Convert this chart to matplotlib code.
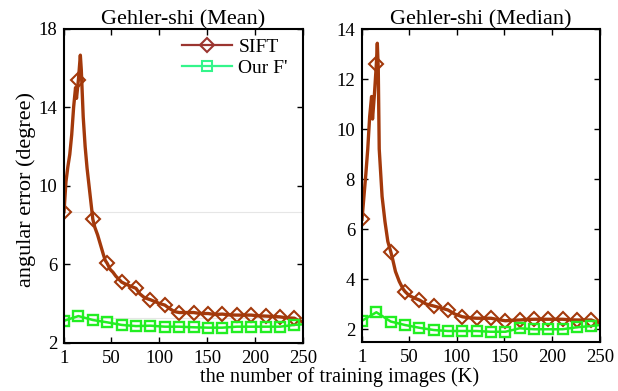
import matplotlib
matplotlib.use("Agg")
import matplotlib.pyplot as plt
from matplotlib.lines import Line2D
import numpy as np

plt.rcParams['font.family'] = ['Liberation Serif', 'DejaVu Serif']

# marker positions shared by every curve (every 15 training images)
marker_x = list(range(1, 250, 15))

# Gehler-shi, mean angular error
sift_mean_x = [1, 3, 5, 7, 9, 11, 13, 14, 16, 18, 19, 21, 23, 25, 28, 31, 33, 36, 39, 42,
               44, 46, 49, 52, 55, 58, 61, 65, 70, 76, 80, 85, 91, 96, 101, 106, 111, 116,
               121, 128, 136, 143, 151, 158, 166, 173, 181, 188, 196, 203, 211, 218, 226,
               233, 241, 245, 250]
sift_mean = [8.68, 10.2, 10.97, 11.6, 12.6, 14.0, 15.0, 14.45, 15.4, 16.65, 15.9, 13.5,
             12.0, 10.9, 9.6, 8.3, 7.9, 7.5, 7.0, 6.5, 6.2, 6.05, 5.75, 5.6, 5.4, 5.25,
             5.1, 5.0, 4.9, 4.78, 4.5, 4.3, 4.2, 4.1, 4.0, 3.93, 3.75, 3.6, 3.55, 3.55,
             3.55, 3.5, 3.5, 3.45, 3.47, 3.43, 3.42, 3.42, 3.42, 3.38, 3.37, 3.35, 3.33,
             3.28, 3.26, 3.15, 3.08]
ours_x = marker_x + [250]
ours_mean = [3.13, 3.37, 3.17, 3.05, 2.92, 2.86, 2.88, 2.83, 2.83, 2.80, 2.78, 2.78,
             2.83, 2.83, 2.83, 2.83, 2.92, 2.95]

# Gehler-shi, median angular error
sift_med_x = [1, 3, 5, 7, 9, 11, 12, 14, 16, 17, 18, 19, 22, 25, 28, 31, 33, 36, 40, 44,
              46, 50, 55, 61, 68, 76, 83, 91, 98, 106, 113, 121, 128, 136, 143, 151, 158,
              166, 173, 181, 188, 196, 203, 211, 218, 226, 233, 241, 245, 250]
sift_med = [6.39, 7.3, 8.2, 9.2, 10.5, 11.3, 10.4, 11.4, 12.6, 13.43, 12.4, 9.2, 7.3,
            6.3, 5.5, 5.1, 4.8, 4.3, 3.9, 3.6, 3.5, 3.35, 3.25, 3.16, 3.0, 2.92, 2.85,
            2.76, 2.6, 2.49, 2.45, 2.43, 2.43, 2.43, 2.38, 2.33, 2.35, 2.36, 2.38, 2.39,
            2.39, 2.39, 2.39, 2.39, 2.37, 2.36, 2.36, 2.36, 2.3, 2.25]
ours_med = [2.33, 2.67, 2.3, 2.16, 2.05, 1.96, 1.92, 1.92, 1.92, 1.89, 1.89, 2.03,
            1.99, 1.99, 1.99, 2.07, 2.12, 2.16]

x_ticks = [1, 50, 100, 150, 200, 250]
sift_color = '#A3390B'
ours_color = '#22EE22'


def marks(xs):
    return [i for i, v in enumerate(xs) if v in marker_x]


def draw(ax, sx, sy, oy, title, ylim, yticks):
    ax.plot(sx, sy, color=sift_color, lw=2.4, marker='D', ms=7.5, mfc='none',
            mew=1.5, markevery=marks(sx))
    ax.plot(ours_x, oy, color=ours_color, lw=1.8, marker='s', ms=7, mfc='none',
            mew=1.7, markevery=marks(ours_x))
    ax.set_xlim(1, 250)
    ax.set_ylim(*ylim)
    ax.set_xticks(x_ticks)
    ax.set_yticks(yticks)
    ax.tick_params(direction='in', top=True, right=True, labelsize=13.5, length=4,
                   width=1, pad=5)
    for s in ax.spines.values():
        s.set_linewidth(1.5)
    ax.set_title(title, fontsize=16, pad=3)


fig = plt.figure(figsize=(6.18, 3.91), dpi=100)
ax1 = fig.add_axes([0.1036, 0.1228, 0.3867, 0.804])
ax2 = fig.add_axes([0.5858, 0.1253, 0.385, 0.8005])

# faint reference lines in the mean panel
for yl in (8.68, 3.29):
    ax1.axhline(yl, color='#e6e6e6', lw=0.8, zorder=0)

draw(ax1, sift_mean_x, sift_mean, ours_mean, 'Gehler-shi (Mean)', (2, 18), [2, 6, 10, 14, 18])
draw(ax2, sift_med_x, sift_med, ours_med, 'Gehler-shi (Median)', (1.48, 14),
     [2, 4, 6, 8, 10, 12, 14])

handles = [Line2D([], [], color='#9B3530', lw=1.6, marker='D', ms=7, mfc='none', mew=1.5),
           Line2D([], [], color='#33F58A', lw=1.6, marker='s', ms=7, mfc='none', mew=1.5)]
ax1.legend(handles, ['SIFT', "Our F'"], loc='upper right', frameon=False, fontsize=14,
           handlelength=2.6, handletextpad=0.3, borderaxespad=0.9, labelspacing=0.2,
           bbox_to_anchor=(1.042, 1.05))

fig.text(0.042, 0.515, 'angular error (degree)', rotation=90, ha='center', va='center',
         fontsize=16)
fig.text(0.55, 0.036, 'the number of training images (K)', ha='center', va='center',
         fontsize=14.7)

fig.savefig('out.png', dpi=100)
